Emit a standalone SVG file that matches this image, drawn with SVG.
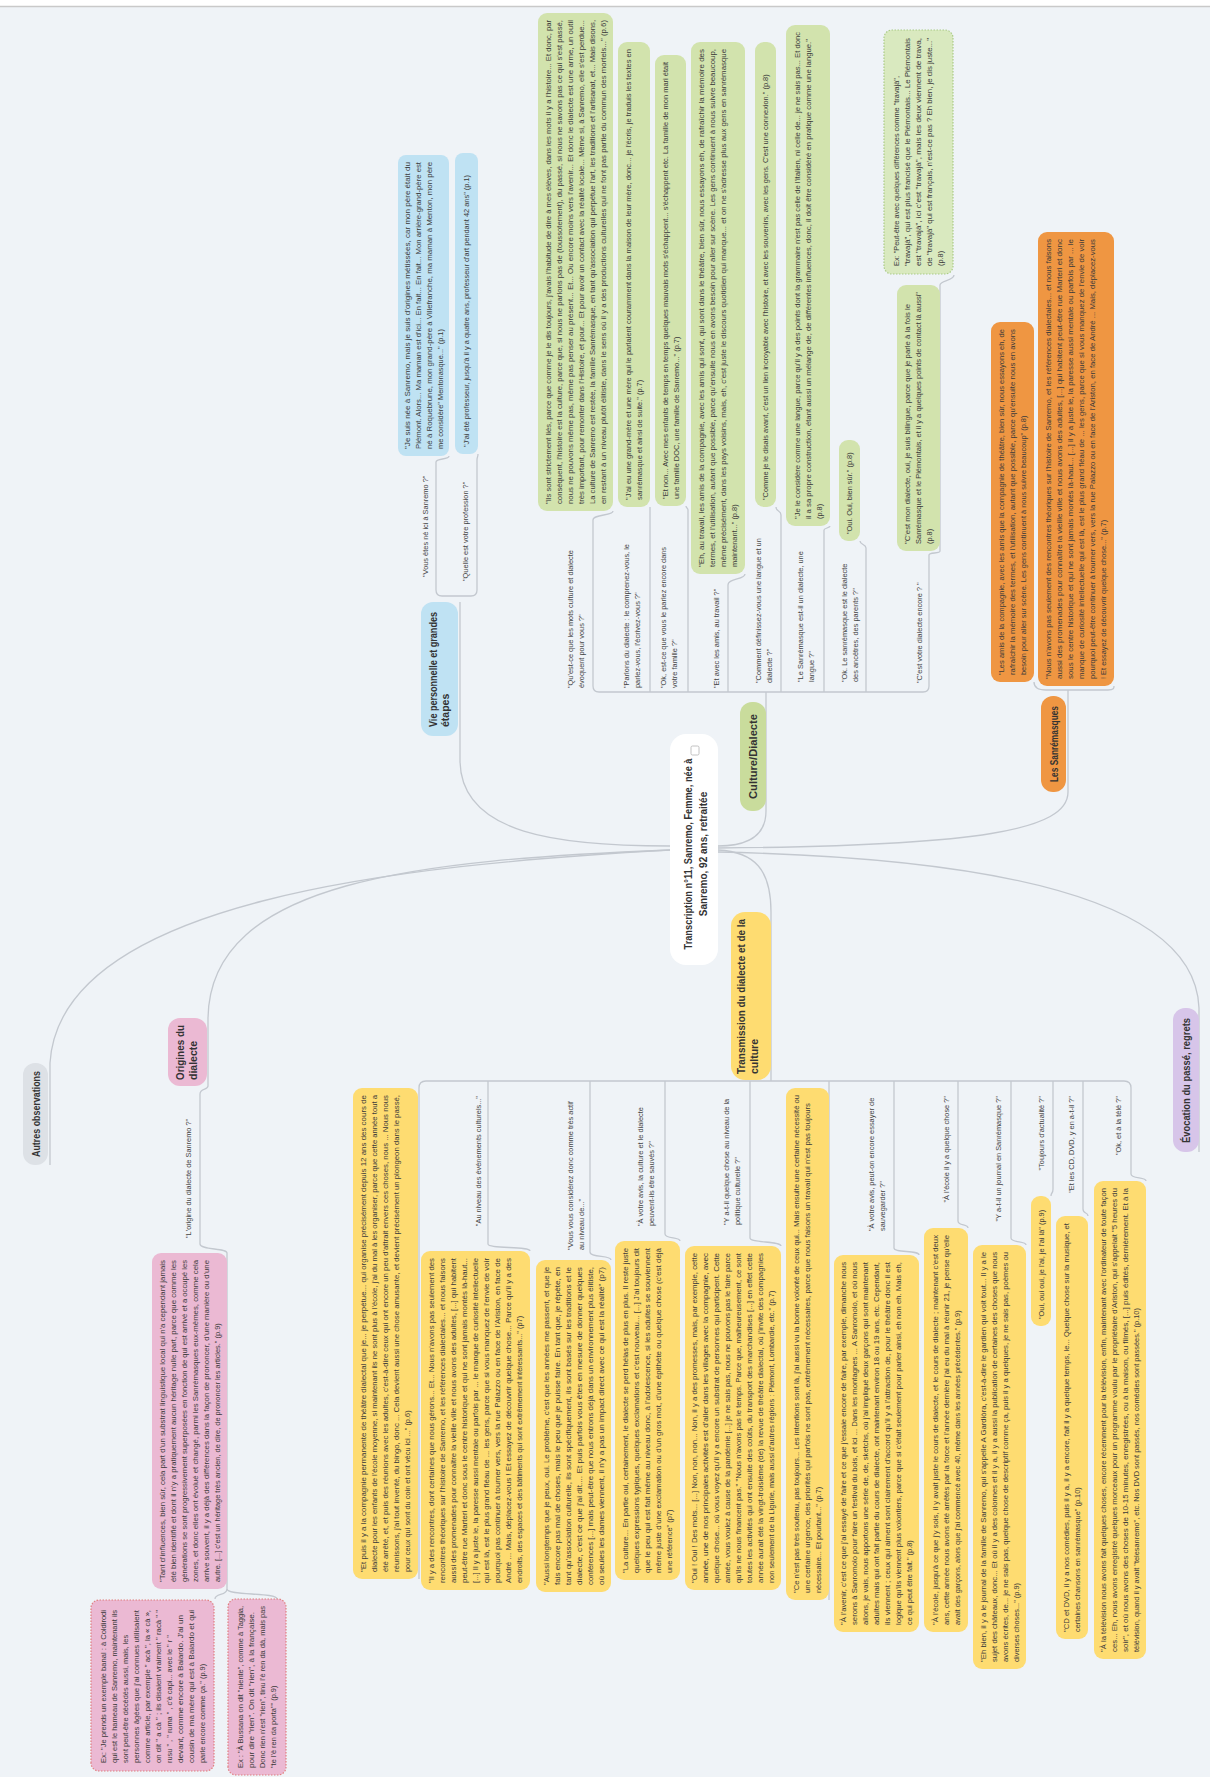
<svg xmlns="http://www.w3.org/2000/svg" width="1210" height="1777" viewBox="0 0 1210 1777">
<style>
text{font-family:"Liberation Sans",Arial,sans-serif;fill:#3a3a3a}
.t{font-size:7.4px}
.q{font-size:7.4px;fill:#444}
.m{font-size:10.5px;font-weight:bold;fill:#333}
.r{font-size:10px;font-weight:bold;fill:#333}
.c{fill:none;stroke:#c3c8cf;stroke-width:1.3}
.blue{fill:#bfe2f3}
.green{fill:#d2e3ad}
.gnode{fill:#c9dc9c}
.orange{fill:#ef9642}
.yellow{fill:#fedc71}
.purple{fill:#d7c5e9}
.pink{fill:#ebb9d3}
.grey{fill:#dde1e6}
.gdot{fill:#d9e9bf;stroke:#aacb86;stroke-width:1.2;stroke-dasharray:1.5 1.5}
.pdot{fill:#ebb9d3;stroke:#e07f7f;stroke-width:1.2;stroke-dasharray:1.5 1.5}
</style>
<rect x="0" y="0" width="1210" height="1777" fill="#eff3f7"/>
<rect x="0" y="0" width="1210" height="6" fill="#ffffff"/>
<line x1="0" y1="6.5" x2="1210" y2="6.5" stroke="#c9c9c9" stroke-width="1.5"/>

<g id="connectors">
<path class="c" d="M670,846 C560,846 460,835 460,760 L460,602"/>
<path class="c" d="M436,462 L436,590 Q436,596 442,596 L471,596 Q477,596 477,590 L477,460"/>
<path class="c" d="M436,462 C436,458 449,460 449,456"/>
<path class="c" d="M477,460 C477,457 478,457 478,454"/>
<path class="c" d="M670,850 C400,865 60,900 50,1063 L50,1165"/>
<path class="c" d="M670,850 C420,860 210,880 208,1018 L208,1086 C208,1090 200,1088 200,1094 L200,1244 C200,1250 227,1248 227,1253 L227,1589"/>
<path class="c" d="M227,1589 C227,1596 215,1593 215,1599"/>
<path class="c" d="M227,1589 C227,1596 277,1592 277,1599"/>
<path class="c" d="M718,846 C745,846 766,838 766,811 L766,692"/>
<path class="c" d="M613,511 C613,516 593,514 593,520 L593,686 Q593,692 599,692 L923,692 Q929,692 929,686 L929,555 C929,552 940,554 940,551 L940,285 C940,280 954,281 954,275"/>
<path class="c" d="M650,692 L650,507"/>
<path class="c" d="M688,692 L688,510 C688,508 686,508 686,506"/>
<path class="c" d="M728,692 L728,585 C728,578 745,580 745,574"/>
<path class="c" d="M781,692 L781,515 C781,510 776,512 776,507"/>
<path class="c" d="M824,692 L824,530 C824,528 830,528 830,526"/>
<path class="c" d="M866,692 L866,548 C866,544 860,545 860,541"/>
<path class="c" d="M718,848 C980,846 1068,830 1068,792 L1068,690"/>
<path class="c" d="M1034,682 C1034,688 1040,690 1046,690 L1108,690 C1114,690 1114,688 1114,686"/>
<path class="c" d="M718,850 C755,852 771,870 771,912 L771,1081"/>
<path class="c" d="M419,1579 L419,1088 Q419,1081 426,1081 L1124,1081 Q1131,1081 1131,1088 L1131,1174 C1131,1179 1146,1177 1146,1181"/>
<path class="c" d="M488,1081 L488,1244 C488,1249 530,1246 530,1251"/>
<path class="c" d="M590,1081 L590,1252 C590,1258 611,1255 611,1260"/>
<path class="c" d="M665,1081 L665,1234 C665,1239 680,1237 680,1241"/>
<path class="c" d="M750,1081 L750,1238 C750,1243 781,1241 781,1246"/>
<path class="c" d="M829,1081 L829,1600"/>
<path class="c" d="M894,1081 L894,1248 C894,1253 919,1250 919,1255"/>
<path class="c" d="M958,1081 L958,1221 C958,1226 968,1224 968,1228"/>
<path class="c" d="M1011,1081 L1011,1238 C1011,1243 1026,1241 1026,1245"/>
<path class="c" d="M1053,1081 L1053,1189 C1053,1194 1051,1192 1051,1196"/>
<path class="c" d="M1083,1081 L1083,1209 C1083,1214 1088,1212 1088,1216"/>
<path class="c" d="M718,852 C1000,858 1195,900 1199,1008 L1199,1152"/>
</g>

<g id="root" transform="translate(670,965) rotate(-90)">
<rect width="231" height="48" rx="16" fill="#ffffff"/>
<text class="r" x="111" y="21.5" text-anchor="middle" textLength="191" lengthAdjust="spacingAndGlyphs">Transcription n°11, Sanremo, Femme, née à</text>
<text class="r" x="111" y="36.5" text-anchor="middle">Sanremo, 92 ans, retraitée</text>
<rect x="210" y="21" width="9" height="8" rx="1.5" fill="none" stroke="#bbb" stroke-width="0.9"/>
</g>

<!-- Blue branch -->
<g id="vie" transform="translate(421,736) rotate(-90)">
<rect width="134" height="37" rx="12" class="blue"/>
<text class="m" x="9" y="15.5" textLength="115" lengthAdjust="spacingAndGlyphs">Vie personnelle et grandes</text>
<text class="m" x="9" y="28">étapes</text>
</g>
<g id="q-vie-1" transform="translate(427.5,577) rotate(-90)"><text class="q">"Vous êtes né ici à Sanremo ?"</text></g>
<g id="q-vie-2" transform="translate(467.5,581) rotate(-90)"><text class="q">"Quelle est votre profession ?"</text></g>
<g id="a-vie-1" transform="translate(398,456) rotate(-90)">
<rect width="301" height="51" rx="8" class="blue"/>
<text class="t" x="7" y="11.8" textLength="287" lengthAdjust="spacingAndGlyphs">"Je suis née à Sanremo, mais je suis d'origines métissées, car mon père était du</text>
<text class="t" x="7" y="22.8" textLength="287" lengthAdjust="spacingAndGlyphs">Piémont. Alors... Ma maman est d'ici... En fait... En fait... Mon arrière-grand-père est</text>
<text class="t" x="7" y="33.8" textLength="287" lengthAdjust="spacingAndGlyphs">né à Roquebrune, mon grand-père à Villefranche, ma maman à Menton, mon père</text>
<text class="t" x="7" y="44.8">me considère" Mentonasque..." (p.1)</text>
</g>
<g id="a-vie-2" transform="translate(455,454) rotate(-90)">
<rect width="301" height="23" rx="8" class="blue"/>
<text class="t" x="7" y="14.3">"J'ai été professeur, jusqu'à il y a quatre ans, professeur d'art pendant 42 ans" (p.1)</text>
</g>

<!-- Green branch -->
<g id="culture" transform="translate(740,811) rotate(-90)">
<rect width="109" height="26" rx="12" class="gnode"/>
<text class="m" x="12" y="17" textLength="85" lengthAdjust="spacingAndGlyphs">Culture/Dialecte</text>
</g>
<g id="q-cu-a" transform="translate(572.5,688) rotate(-90)"><text class="q">"Qu'est-ce que les mots culture et dialecte</text><text class="q" y="11">évoquent pour vous ?"</text></g>
<g id="q-cu-b" transform="translate(628.5,688) rotate(-90)"><text class="q">"Parlons du dialecte : le comprenez-vous, le</text><text class="q" y="11">parlez-vous, l'écrivez-vous ?"</text></g>
<g id="q-cu-c" transform="translate(665.5,688) rotate(-90)"><text class="q">"Ok, est-ce que vous le parlez encore dans</text><text class="q" y="11">votre famille ?"</text></g>
<g id="q-cu-d" transform="translate(718.5,688) rotate(-90)"><text class="q">"Et avec les amis, au travail ?"</text></g>
<g id="q-cu-e" transform="translate(760.5,683) rotate(-90)"><text class="q">"Comment définissez-vous une langue et un</text><text class="q" y="11">dialecte ?"</text></g>
<g id="q-cu-f" transform="translate(802.5,682) rotate(-90)"><text class="q">"Le Sanrémasque est-il un dialecte, une</text><text class="q" y="11">langue ?"</text></g>
<g id="q-cu-g" transform="translate(846.5,682) rotate(-90)"><text class="q">"Ok. Le sanrémasque est le dialecte</text><text class="q" y="11">des ancêtres, des parents ?"</text></g>
<g id="q-cu-h" transform="translate(921.5,683) rotate(-90)"><text class="q">"C'est votre dialecte encore ? "</text></g>

<g id="a-cu-a" transform="translate(538,511) rotate(-90)">
<rect width="498" height="75" rx="9" class="green"/>
<text class="t" x="7" y="12.8" textLength="484" lengthAdjust="spacingAndGlyphs">"Ils sont strictement liés, parce que comme je le dis toujours, j'avais l'habitude de dire à mes élèves, dans les mots il y a l'histoire... Et donc, par</text>
<text class="t" x="7" y="23.8" textLength="484" lengthAdjust="spacingAndGlyphs">conséquent, l'histoire est la culture, parce que, si nous ne parlons pas de (toussotement), du passé, si nous ne savons pas ce qui s'est passé,</text>
<text class="t" x="7" y="34.8" textLength="484" lengthAdjust="spacingAndGlyphs">nous ne pouvons même pas, même pas penser au présent... Et... Ou encore moins vers l'avenir... Et donc le dialecte est une arme, un outil</text>
<text class="t" x="7" y="45.8" textLength="484" lengthAdjust="spacingAndGlyphs">très important, pour remonter dans l'Histoire, et pour... Et pour avoir un contact avec la réalité locale... Même si, à Sanremo, elle s'est perdue...</text>
<text class="t" x="7" y="56.8" textLength="484" lengthAdjust="spacingAndGlyphs">La culture de Sanremo est restée, la famille Sanrémasque, en tant qu'association qui perpétue l'art, les traditions et l'artisanat, et... Mais disons,</text>
<text class="t" x="7" y="67.8" textLength="484" lengthAdjust="spacingAndGlyphs">en restant à un niveau plutôt élitiste, dans le sens où il y a des productions culturelles qui ne font pas partie du commun des mortels..." (p.6)</text>
</g>
<g id="a-cu-b" transform="translate(618,507) rotate(-90)">
<rect width="465" height="32" rx="9" class="green"/>
<text class="t" x="7" y="13.3" textLength="451" lengthAdjust="spacingAndGlyphs">"J'ai eu une grand-mère et une mère qui le parlaient couramment dans la maison de leur mère, donc... je l'écris, je traduis les textes en</text>
<text class="t" x="7" y="24.3">sanrémasque et ainsi de suite." (p.7)</text>
</g>
<g id="a-cu-c" transform="translate(655,506) rotate(-90)">
<rect width="451" height="31" rx="9" class="green"/>
<text class="t" x="7" y="12.8" textLength="437" lengthAdjust="spacingAndGlyphs">"Et non... Avec mes enfants de temps en temps quelques mauvais mots s'échappent... s'échappent etc. La famille de mon mari était</text>
<text class="t" x="7" y="23.8">une famille DOC, une famille de Sanremo..." (p.7)</text>
</g>
<g id="a-cu-d" transform="translate(691,574) rotate(-90)">
<rect width="532" height="54" rx="9" class="green"/>
<text class="t" x="7" y="13.3" textLength="518" lengthAdjust="spacingAndGlyphs">"Eh, au travail, les amis de la compagnie, avec les amis qui sont, qui sont dans le théâtre, bien sûr, nous essayons eh, de rafraîchir la mémoire des</text>
<text class="t" x="7" y="24.3" textLength="518" lengthAdjust="spacingAndGlyphs">termes, et l'utilisation, autant que possible, parce qu'ensuite nous en avons besoin pour aller sur scène. Les gens continuent à nous suivre beaucoup,</text>
<text class="t" x="7" y="35.3" textLength="518" lengthAdjust="spacingAndGlyphs">même précisément, dans les pays voisins, mais, eh, c'est juste le discours quotidien qui manque... et on ne s'adresse plus aux gens en sanrémasque</text>
<text class="t" x="7" y="46.3">maintenant..." (p.8)</text>
</g>
<g id="a-cu-e" transform="translate(755,507) rotate(-90)">
<rect width="465" height="21" rx="9" class="green"/>
<text class="t" x="7" y="13.3">"Comme je le disais avant, c'est un lien incroyable avec l'histoire, et avec les souvenirs, avec les gens. C'est une connexion." (p.8)</text>
</g>
<g id="a-cu-f" transform="translate(786,526) rotate(-90)">
<rect width="501" height="44" rx="9" class="green"/>
<text class="t" x="7" y="13.8" textLength="487" lengthAdjust="spacingAndGlyphs">"Je le considère comme une langue, parce qu'il y a des points dont la grammaire n'est pas celle de l'italien, ni celle de... je ne sais pas... Et donc</text>
<text class="t" x="7" y="24.8" textLength="480" lengthAdjust="spacingAndGlyphs">il a sa propre construction, étant aussi un mélange de, de différentes influences, donc, il doit être considéré en pratique comme une langue."</text>
<text class="t" x="7" y="35.8">(p.8)</text>
</g>
<g id="a-cu-g" transform="translate(839,541) rotate(-90)">
<rect width="101" height="21" rx="9" class="green"/>
<text class="t" x="7" y="13.3">"Oui. Oui, bien sûr." (p.8)</text>
</g>
<g id="a-cu-h" transform="translate(897,551) rotate(-90)">
<rect width="266" height="43" rx="9" class="green"/>
<text class="t" x="7" y="13.3" textLength="240" lengthAdjust="spacingAndGlyphs">"C'est mon dialecte, oui, je suis bilingue, parce que je parle à la fois le</text>
<text class="t" x="7" y="24.3" textLength="252" lengthAdjust="spacingAndGlyphs">Sanrémasque et le Piémontais, et il y a quelques points de contact là aussi"</text>
<text class="t" x="7" y="35.3">(p.8)</text>
</g>
<g id="ex-cu-h" transform="translate(883,275) rotate(-90)">
<rect x="1" y="1" width="244" height="69" rx="8" class="gdot"/>
<text class="t" x="9" y="16.3" textLength="190" lengthAdjust="spacingAndGlyphs">Ex: "Peut-être avec quelques différences comme "travajà",</text>
<text class="t" x="9" y="27.3" textLength="228" lengthAdjust="spacingAndGlyphs">"travajà", qui est plus francisé que le Piémontais... Le Piémontais</text>
<text class="t" x="9" y="38.3" textLength="228" lengthAdjust="spacingAndGlyphs">est "travajà", ici c'est "travajà", mais les deux viennent de trava,</text>
<text class="t" x="9" y="49.3" textLength="228" lengthAdjust="spacingAndGlyphs">de "travajà" qui est français, n'est-ce pas ? Eh bien, je dis juste..."</text>
<text class="t" x="9" y="60.3">(p.8)</text>
</g>

<!-- Orange branch -->
<g id="sanremasques" transform="translate(1041,792) rotate(-90)">
<rect width="96" height="25" rx="12" class="orange"/>
<text class="m" x="10" y="16.5" textLength="76" lengthAdjust="spacingAndGlyphs">Les Sanrémasques</text>
</g>
<g id="a-sa-1" transform="translate(991,682) rotate(-90)">
<rect width="360" height="43" rx="9" class="orange"/>
<text class="t" x="7" y="13.3" textLength="346" lengthAdjust="spacingAndGlyphs">"Les amis de la compagnie, avec les amis que la compagnie de théâtre, bien sûr, nous essayons eh, de</text>
<text class="t" x="7" y="24.3" textLength="346" lengthAdjust="spacingAndGlyphs">rafraîchir la mémoire des termes, et l'utilisation, autant que possible, parce qu'ensuite nous en avons</text>
<text class="t" x="7" y="35.3">besoin pour aller sur scène. Les gens continuent à nous suivre beaucoup" (p.8)</text>
</g>
<g id="a-sa-2" transform="translate(1038,686) rotate(-90)">
<rect width="454" height="76" rx="9" class="orange"/>
<text class="t" x="7" y="13.3" textLength="440" lengthAdjust="spacingAndGlyphs">"Nous n'avons pas seulement des rencontres théoriques sur l'histoire de Sanremo, et les références dialectales... et nous faisons</text>
<text class="t" x="7" y="24.3" textLength="440" lengthAdjust="spacingAndGlyphs">aussi des promenades pour connaître la vieille ville et nous avons des adultes, [...] qui habitent peut-être rue Marteri et donc</text>
<text class="t" x="7" y="35.3" textLength="440" lengthAdjust="spacingAndGlyphs">sous le centre historique et qui ne sont jamais montés là-haut... [...] il y a juste le, la paresse aussi mentale ou parfois par ... le</text>
<text class="t" x="7" y="46.3" textLength="440" lengthAdjust="spacingAndGlyphs">manque de curiosité intellectuelle qui est là, est le plus grand fléau de ... les gens, parce que si vous manquez de l'envie de voir</text>
<text class="t" x="7" y="57.3" textLength="440" lengthAdjust="spacingAndGlyphs">pourquoi peut-être continuer à tourner vers, vers la rue Palazzo ou en face de l'Ariston, en face de André ... Mais, déplacez-vous</text>
<text class="t" x="7" y="68.3">! Et essayez de découvrir quelque chose..." (p.7)</text>
</g>

<!-- Yellow branch -->
<g id="transmission" transform="translate(731,1080) rotate(-90)">
<rect width="168" height="40" rx="14" class="yellow"/>
<text class="m" x="6" y="13.5" textLength="155" lengthAdjust="spacingAndGlyphs">Transmission du dialecte et de la</text>
<text class="m" x="6" y="26.5">culture</text>
</g>
<g id="q-tr-1" transform="translate(480.5,1096) rotate(-90)"><text class="q" text-anchor="end">"Au niveau des événements culturels..."</text></g>
<g id="q-tr-2" transform="translate(572.5,1250) rotate(-90)"><text class="q">"Vous vous considérez donc comme très actif</text><text class="q" y="11">au niveau de..."</text></g>
<g id="q-tr-3" transform="translate(642.5,1226) rotate(-90)"><text class="q">"À votre avis, la culture et le dialecte</text><text class="q" y="11">peuvent-ils être sauvés ?"</text></g>
<g id="q-tr-4" transform="translate(728.5,1225) rotate(-90)"><text class="q">"Y a-t-il quelque chose au niveau de la</text><text class="q" y="11">politique culturelle ?"</text></g>
<g id="q-tr-5" transform="translate(873.5,1231) rotate(-90)"><text class="q">"À votre avis, peut-on encore essayer de</text><text class="q" y="11">sauvegarder ?"</text></g>
<g id="q-tr-6" transform="translate(948.5,1096) rotate(-90)"><text class="q" text-anchor="end">"À l'école il y a quelque chose ?"</text></g>
<g id="q-tr-7" transform="translate(1000.5,1096) rotate(-90)"><text class="q" text-anchor="end">"Y a-t-il un journal en Sanrémasque ?"</text></g>
<g id="q-tr-8" transform="translate(1043.5,1096) rotate(-90)"><text class="q" text-anchor="end">"Toujours d'actualité ?"</text></g>
<g id="q-tr-9" transform="translate(1073.5,1096) rotate(-90)"><text class="q" text-anchor="end">"Et les CD, DVD, y en a-t-il ?"</text></g>
<g id="q-tr-10" transform="translate(1120.5,1096) rotate(-90)"><text class="q" text-anchor="end">"Ok, et à la télé ?"</text></g>

<g id="a-tr-0" transform="translate(353,1579) rotate(-90)">
<rect width="491" height="65" rx="9" class="yellow"/>
<text class="t" x="7" y="13.3" textLength="477" lengthAdjust="spacingAndGlyphs">"Et puis il y a la compagnie permanente de théâtre dialectal que je... je perpétue... qui organise précisément depuis 12 ans des cours de</text>
<text class="t" x="7" y="24.3" textLength="477" lengthAdjust="spacingAndGlyphs">dialecte pour les enfants de l'école moyenne, si maintenant ils ne sont plus à l'école, j'ai du mal à les organiser, parce que cette année tout a</text>
<text class="t" x="7" y="35.3" textLength="477" lengthAdjust="spacingAndGlyphs">été arrêté, et, et puis des réunions avec les adultes, c'est-à-dire ceux qui ont encore un peu d'attrait envers ces choses, nous ... Nous nous</text>
<text class="t" x="7" y="46.3" textLength="477" lengthAdjust="spacingAndGlyphs">réunissons, j'ai tout inventé, du bingo, donc ... Cela devient aussi une chose amusante, et devient précisément un plongeon dans le passé,</text>
<text class="t" x="7" y="57.3">pour ceux qui sont du coin et ont vécu ici ..." (p.6)</text>
</g>
<g id="a-tr-1" transform="translate(421,1590) rotate(-90)">
<rect width="339" height="109" rx="9" class="yellow"/>
<text class="t" x="7" y="13.3" textLength="325" lengthAdjust="spacingAndGlyphs">"Il y a des rencontres, dont certaines que nous gérons... Et... Nous n'avons pas seulement des</text>
<text class="t" x="7" y="24.3" textLength="325" lengthAdjust="spacingAndGlyphs">rencontres théoriques sur l'histoire de Sanremo, et les références dialectales... et nous faisons</text>
<text class="t" x="7" y="35.3" textLength="325" lengthAdjust="spacingAndGlyphs">aussi des promenades pour connaître la vieille ville et nous avons des adultes, [...] qui habitent</text>
<text class="t" x="7" y="46.3" textLength="325" lengthAdjust="spacingAndGlyphs">peut-être rue Marteri et donc sous le centre historique et qui ne sont jamais montés là-haut...</text>
<text class="t" x="7" y="57.3" textLength="325" lengthAdjust="spacingAndGlyphs">[...] Il y a juste le, la paresse aussi mentale ou parfois par ... le manque de curiosité intellectuelle</text>
<text class="t" x="7" y="68.3" textLength="325" lengthAdjust="spacingAndGlyphs">qui est là, est le plus grand fléau de ... les gens, parce que si vous manquez de l'envie de voir</text>
<text class="t" x="7" y="79.3" textLength="325" lengthAdjust="spacingAndGlyphs">pourquoi pas continuer à tourner vers, vers la rue Palazzo ou en face de l'Ariston, en face de</text>
<text class="t" x="7" y="90.3" textLength="325" lengthAdjust="spacingAndGlyphs">André ... Mais, déplacez-vous ! Et essayez de découvrir quelque chose... Parce qu'il y a des</text>
<text class="t" x="7" y="101.3">endroits, des espaces et des bâtiments qui sont extrêmement intéressants..." (p7)</text>
</g>
<g id="a-tr-2" transform="translate(536,1592) rotate(-90)">
<rect width="332" height="75" rx="9" class="yellow"/>
<text class="t" x="7" y="12.8" textLength="318" lengthAdjust="spacingAndGlyphs">"Aussi longtemps que je peux, oui. Le problème, c'est que les années me passent, et que je</text>
<text class="t" x="7" y="23.8" textLength="318" lengthAdjust="spacingAndGlyphs">fais encore pas mal de choses, mais le peu que je puisse faire. En tant que, je répète, en</text>
<text class="t" x="7" y="34.8" textLength="318" lengthAdjust="spacingAndGlyphs">tant qu'association culturelle, ils sont spécifiquement, ils sont basés sur les traditions et le</text>
<text class="t" x="7" y="45.8" textLength="318" lengthAdjust="spacingAndGlyphs">dialecte, c'est ce que j'ai dit.... Et puis parfois vous êtes en mesure de donner quelques</text>
<text class="t" x="7" y="56.8" textLength="318" lengthAdjust="spacingAndGlyphs">conférences [...] mais peut-être que nous entrons déjà dans un environnement plus élitiste,</text>
<text class="t" x="7" y="67.8" textLength="318" lengthAdjust="spacingAndGlyphs">où seules les dames viennent, il n'y a pas un impact direct avec ce qui est la réalité" (p7)</text>
</g>
<g id="a-tr-3" transform="translate(615,1580) rotate(-90)">
<rect width="339" height="65" rx="9" class="yellow"/>
<text class="t" x="7" y="13.3" textLength="325" lengthAdjust="spacingAndGlyphs">"La culture... En partie oui, certainement, le dialecte se perd hélas de plus en plus. Il reste juste</text>
<text class="t" x="7" y="24.3" textLength="325" lengthAdjust="spacingAndGlyphs">quelques expressions typiques, quelques exclamations et c'est nouveau... [...] J'ai toujours dit</text>
<text class="t" x="7" y="35.3" textLength="325" lengthAdjust="spacingAndGlyphs">que le peu qui est fait même au niveau donc, à l'adolescence, si les adultes se souviennent</text>
<text class="t" x="7" y="46.3" textLength="325" lengthAdjust="spacingAndGlyphs">même juste d'une exclamation ou d'un gros mot, d'une épithète ou quelque chose (c'est déjà</text>
<text class="t" x="7" y="57.3">une référence" (p7)</text>
</g>
<g id="a-tr-4" transform="translate(685,1590) rotate(-90)">
<rect width="344" height="96" rx="9" class="yellow"/>
<text class="t" x="7" y="12.3" textLength="330" lengthAdjust="spacingAndGlyphs">"Oui ! Oui ! Des mots... [...] Non, non, non... Non, il y a des promesses, mais, par exemple, cette</text>
<text class="t" x="7" y="23.3" textLength="330" lengthAdjust="spacingAndGlyphs">année, une de nos principales activités est d'aller dans les villages avec la compagnie, avec</text>
<text class="t" x="7" y="34.3" textLength="330" lengthAdjust="spacingAndGlyphs">quelque chose... où vous voyez qu'il y a encore un substrat de personnes qui participent. Cette</text>
<text class="t" x="7" y="45.3" textLength="330" lengthAdjust="spacingAndGlyphs">année, vous voulez à cause de la pandémie [...] je ne sais pas, nous ne pouvons pas le faire parce</text>
<text class="t" x="7" y="56.3" textLength="330" lengthAdjust="spacingAndGlyphs">qu'ils ne nous financent pas." "Nous n'avons pas le temps. Parce que, malheureusement, ce sont</text>
<text class="t" x="7" y="67.3" textLength="330" lengthAdjust="spacingAndGlyphs">toutes les activités qui ont ensuite des coûts, du transport des marchandises [...] en effet cette</text>
<text class="t" x="7" y="78.3" textLength="330" lengthAdjust="spacingAndGlyphs">année aurait été la vingt-troisième (de) la revue de théâtre dialectal, où j'invite des compagnies</text>
<text class="t" x="7" y="89.3">non seulement de la Ligurie, mais aussi d'autres régions : Piémont, Lombardie, etc." (p.7)</text>
</g>
<g id="a-tr-5" transform="translate(786,1600) rotate(-90)">
<rect width="512" height="43" rx="9" class="yellow"/>
<text class="t" x="7" y="13.3" textLength="498" lengthAdjust="spacingAndGlyphs">"Ce n'est pas très soutenu, pas toujours... Les intentions sont là, j'ai aussi vu la bonne volonté de ceux qui... Mais ensuite une certaine nécessité ou</text>
<text class="t" x="7" y="24.3" textLength="490" lengthAdjust="spacingAndGlyphs">une certaine urgence, des priorités qui parfois ne sont pas, extrêmement nécessaires, parce que nous faisons un travail qui n'est pas toujours</text>
<text class="t" x="7" y="35.3">nécessaire... Et pourtant..." (p.7)</text>
</g>
<g id="a-tr-6" transform="translate(834,1632) rotate(-90)">
<rect width="377" height="85" rx="9" class="yellow"/>
<text class="t" x="7" y="12.3" textLength="363" lengthAdjust="spacingAndGlyphs">"À l'avenir, c'est ce que j'ai essayé de faire et ce que j'essaie encore de faire, par exemple, dimanche nous</text>
<text class="t" x="7" y="23.3" textLength="363" lengthAdjust="spacingAndGlyphs">serons à Sanromolo pour faire un festival du bois, et ici ... Dans les montagnes ... A Sanromolo, et où nous</text>
<text class="t" x="7" y="34.3" textLength="363" lengthAdjust="spacingAndGlyphs">allons, je vais, nous apportons une série de, de, sketchs, où j'ai impliqué deux garçons qui sont maintenant</text>
<text class="t" x="7" y="45.3" textLength="363" lengthAdjust="spacingAndGlyphs">adultes mais qui ont fait partie du cours de dialecte, ont maintenant environ 18 ou 19 ans, etc. Cependant,</text>
<text class="t" x="7" y="56.3" textLength="363" lengthAdjust="spacingAndGlyphs">ils viennent ; ceux qui aiment sont clairement d'accord qu'il y a l'attraction de, pour le théâtre donc il est</text>
<text class="t" x="7" y="67.3" textLength="363" lengthAdjust="spacingAndGlyphs">logique qu'ils viennent plus volontiers, parce que si c'était seulement pour parler ainsi, eh non eh. Mais eh,</text>
<text class="t" x="7" y="78.3">ce qui peut être fait." (p.8)</text>
</g>
<g id="a-tr-7" transform="translate(924,1632) rotate(-90)">
<rect width="404" height="44" rx="9" class="yellow"/>
<text class="t" x="7" y="13.8" textLength="390" lengthAdjust="spacingAndGlyphs">"À l'école, jusqu'à ce que j'y sois, il y avait juste le cours de dialecte, et le cours de dialecte ; maintenant c'est deux</text>
<text class="t" x="7" y="24.8" textLength="390" lengthAdjust="spacingAndGlyphs">ans, cette année nous avons été arrêtés par la force et l'année dernière j'ai eu du mal à réunir 21, je pense qu'elle</text>
<text class="t" x="7" y="35.8">avait des garçons, alors que j'ai commencé avec 40, même dans les années précédentes." (p.9)</text>
</g>
<g id="a-tr-8" transform="translate(973,1669) rotate(-90)">
<rect width="424" height="53" rx="9" class="yellow"/>
<text class="t" x="7" y="12.8" textLength="410" lengthAdjust="spacingAndGlyphs">"Eh bien, il y a le journal de la famille de Sanremo, qui s'appelle A Gardiòra, c'est-à-dire le gardien qui voit tout... Il y a le</text>
<text class="t" x="7" y="23.8" textLength="410" lengthAdjust="spacingAndGlyphs">sujet des châteaux, donc... Et où il y a des colonnes et il y a, il y a aussi la publication de certaines des choses que nous</text>
<text class="t" x="7" y="34.8" textLength="410" lengthAdjust="spacingAndGlyphs">avons écrites, de... je ne sais pas, quelque chose de descriptif comme ça, puis il y a quelques, je ne sais pas, poèmes ou</text>
<text class="t" x="7" y="45.8">diverses choses..." (p.9)</text>
</g>
<g id="a-tr-9" transform="translate(1031,1326) rotate(-90)">
<rect width="130" height="20" rx="9" class="yellow"/>
<text class="t" x="7" y="12.8">"Oui, oui oui, je l'ai, je l'ai là" (p.9)</text>
</g>
<g id="a-tr-10" transform="translate(1056,1639) rotate(-90)">
<rect width="423" height="32" rx="9" class="yellow"/>
<text class="t" x="7" y="13.3" textLength="409" lengthAdjust="spacingAndGlyphs">"CD et DVD, il y a nos comédies, puis il y a, il y a encore, fait il y a quelque temps, le... Quelque chose sur la musique, et</text>
<text class="t" x="7" y="24.3">certaines chansons en sanrémasque" (p.10)</text>
</g>
<g id="a-tr-11" transform="translate(1094,1659) rotate(-90)">
<rect width="478" height="52" rx="9" class="yellow"/>
<text class="t" x="7" y="12.3" textLength="464" lengthAdjust="spacingAndGlyphs">"À la télévision nous avons fait quelques choses, encore récemment pour la télévision, enfin, maintenant avec l'ordinateur de toute façon</text>
<text class="t" x="7" y="23.3" textLength="464" lengthAdjust="spacingAndGlyphs">ces... Eh, nous avons enregistré quelques morceaux pour un programme voulu par le propriétaire d'Ariston, qui s'appelait "5 heures du</text>
<text class="t" x="7" y="34.3" textLength="464" lengthAdjust="spacingAndGlyphs">soir", et où nous avons des choses de 10-15 minutes, enregistrées, ou à la maison, ou filmés, [...] puis édités, dernièrement. Et à la</text>
<text class="t" x="7" y="45.3">télévision, quand il y avait "telesanremo", etc. Nos DVD sont passés, nos comédies sont passées." (p.10)</text>
</g>

<!-- Purple -->
<g id="evocation" transform="translate(1173,1152) rotate(-90)">
<rect width="144" height="26" rx="12" class="purple"/>
<text class="m" x="9" y="17" textLength="125" lengthAdjust="spacingAndGlyphs">Évocation du passé, regrets</text>
</g>

<!-- Grey -->
<g id="autres" transform="translate(23,1165) rotate(-90)">
<rect width="102" height="25" rx="12" class="grey"/>
<text class="m" x="8" y="16.5" textLength="86" lengthAdjust="spacingAndGlyphs">Autres observations</text>
</g>

<!-- Pink -->
<g id="origines" transform="translate(168,1086) rotate(-90)">
<rect width="68" height="39" rx="12" class="pink"/>
<text class="m" x="6" y="15.5" textLength="55" lengthAdjust="spacingAndGlyphs">Origines du</text>
<text class="m" x="6" y="28.5">dialecte</text>
</g>
<g id="q-or-1" transform="translate(190.5,1238) rotate(-90)"><text class="q">"L'origine du dialecte de Sanremo ?"</text></g>
<g id="a-or-1" transform="translate(152,1589) rotate(-90)">
<rect width="336" height="75" rx="9" class="pink"/>
<text class="t" x="7" y="12.8" textLength="322" lengthAdjust="spacingAndGlyphs">"Tant d'influences, bien sûr, cela part d'un substrat linguistique local qui n'a cependant jamais</text>
<text class="t" x="7" y="23.8" textLength="322" lengthAdjust="spacingAndGlyphs">été bien identifié et dont il n'y a pratiquement aucun héritage nulle part, parce que comme les</text>
<text class="t" x="7" y="34.8" textLength="322" lengthAdjust="spacingAndGlyphs">générations se sont progressivement superposées en fonction de qui est arrivé et a occupé les</text>
<text class="t" x="7" y="45.8" textLength="322" lengthAdjust="spacingAndGlyphs">zones, et donc elles ont évolué et changé, parmi les Sanrémasques eux-mêmes, comme cela</text>
<text class="t" x="7" y="56.8" textLength="322" lengthAdjust="spacingAndGlyphs">arrive souvent, il y a déjà des différences dans la façon de prononcer, d'une manière ou d'une</text>
<text class="t" x="7" y="67.8">autre. [...] c'est un héritage très ancien, de dire, de prononcer les articles." (p.9)</text>
</g>
<g id="ex-or-1" transform="translate(90,1772) rotate(-90)">
<rect x="1" y="1" width="171" height="123" rx="8" class="pdot"/>
<text class="t" x="9" y="15.8" textLength="153" lengthAdjust="spacingAndGlyphs">Ex: "Je prends un exemple banal : à Coldirodi</text>
<text class="t" x="9" y="26.8" textLength="153" lengthAdjust="spacingAndGlyphs">qui est le hameau de Sanremo, maintenant ils</text>
<text class="t" x="9" y="37.8">sont peut-être décédés aussi, mais, les</text>
<text class="t" x="9" y="48.8" textLength="153" lengthAdjust="spacingAndGlyphs">personnes âgées que j'ai connues utilisaient</text>
<text class="t" x="9" y="59.8" textLength="153" lengthAdjust="spacingAndGlyphs">comme article, par exemple " acà ", la « cà »,</text>
<text class="t" x="9" y="70.8" textLength="153" lengthAdjust="spacingAndGlyphs">on dit " a cà " ; ils disaient vraiment " racà " "</text>
<text class="t" x="9" y="81.8">rusu " , " ruma " , c'è capi... avec le " r "</text>
<text class="t" x="9" y="92.8" textLength="148" lengthAdjust="spacingAndGlyphs">devant, comme encore à Baiardo. J'ai un</text>
<text class="t" x="9" y="103.8" textLength="153" lengthAdjust="spacingAndGlyphs">cousin de ma mère qui est à Baiardo et qui</text>
<text class="t" x="9" y="114.8">parle encore comme ça." (p.9)</text>
</g>
<g id="ex-or-2" transform="translate(227,1776) rotate(-90)">
<rect x="1" y="1" width="176" height="58" rx="8" class="pdot"/>
<text class="t" x="8" y="16.3" textLength="162" lengthAdjust="spacingAndGlyphs">Ex : "À Bussana on dit "niente", comme à Taggia,</text>
<text class="t" x="8" y="27.3" textLength="156" lengthAdjust="spacingAndGlyphs">pour dire "rien". On dit "rien", à la française.</text>
<text class="t" x="8" y="38.3" textLength="162" lengthAdjust="spacingAndGlyphs">Donc rien n'est "rien", tinu l'è ren da dà, mais pas</text>
<text class="t" x="8" y="49.3">"te l'è ren da porta"" (p.9)</text>
</g>
</svg>
